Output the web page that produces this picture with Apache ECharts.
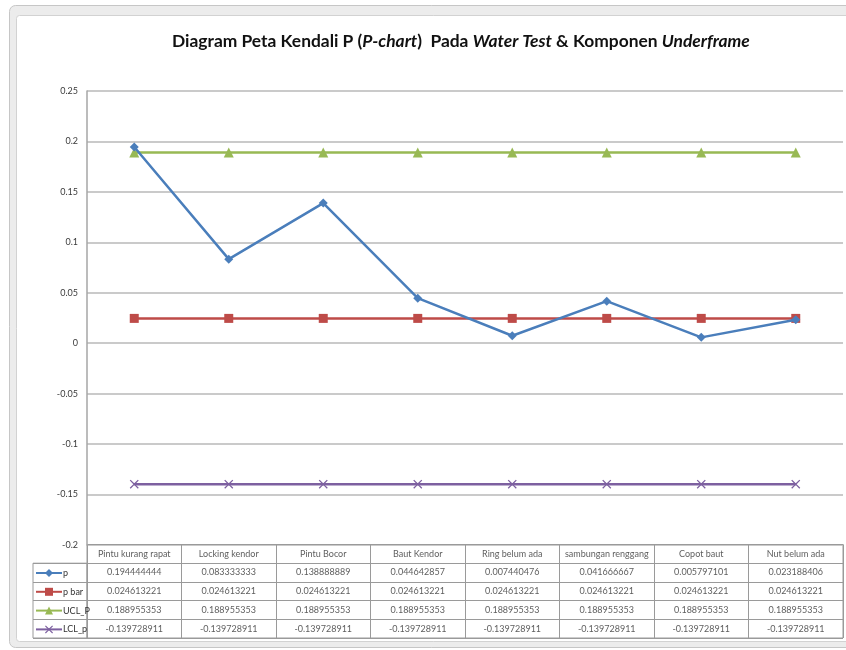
<!DOCTYPE html>
<html>
<head>
<meta charset="utf-8">
<script src="https://cdn.jsdelivr.net/npm/echarts@6/dist/echarts.min.js"></script>
<style>html,body{margin:0;padding:0;background:#fff}#c{width:846px;height:650px}</style>
</head>
<body>
<div id="c"></div>
<script>
const categories = ['Pintu kurang rapat','Locking kendor','Pintu Bocor','Baut Kendor','Ring belum ada','sambungan renggang','Copot baut','Nut belum ada'];
const seriesNames = ['p','p bar','UCL_P','LCL_p'];
const p     = [0.194444444,0.083333333,0.138888889,0.044642857,0.007440476,0.041666667,0.005797101,0.023188406];
const pBar  = [0.024613221,0.024613221,0.024613221,0.024613221,0.024613221,0.024613221,0.024613221,0.024613221];
const uclP  = [0.188955353,0.188955353,0.188955353,0.188955353,0.188955353,0.188955353,0.188955353,0.188955353];
const lclP  = [-0.139728911,-0.139728911,-0.139728911,-0.139728911,-0.139728911,-0.139728911,-0.139728911,-0.139728911];
const yMin = -0.2, yMax = 0.25, yStep = 0.05;

const FONT = 'Lato';
const colors = ['#4A7EBB','#BE4B48','#98B954','#7D60A0'];
const allValues = [p, pBar, uclP, lclP];
const tableRows = ['header'].concat(seriesNames);

const tableData = [];
categories.forEach((c) => tableData.push({value:[c,'header'], name:c}));
allValues.forEach((arr, ri) => {
  arr.forEach((v, ci) => tableData.push({value:[categories[ci], seriesNames[ri]], name:String(v)}));
});

const xSym = 'path://M0,1L1,0L5,4L9,0L10,1L6,5L10,9L9,10L5,6L1,10L0,9L4,5Z';
const symbols = ['diamond','rect','triangle',xSym];
const symSizes = [9,9,10,9];

const chart = echarts.init(document.getElementById('c'), null, {renderer:'canvas'});
const lineSeries = seriesNames.map((n, i) => ({
  name: n, type: 'line', xAxisIndex: 0, yAxisIndex: 0,
  data: allValues[i], symbol: symbols[i], symbolSize: symSizes[i],
  showAllSymbol: true, z: 3 + (i===0?2:0),
  lineStyle: {color: colors[i], width: 2.5},
  itemStyle: {color: colors[i]},
  emphasis: {disabled: true}
}));

chart.setOption({
  animation: false,
  textStyle: {fontFamily: FONT},
  graphic: [
    {type:'rect', z:-10, silent:true, shape:{x:9.5,y:5.5,width:845,height:642,r:6}, style:{fill:'#ececec', stroke:'#c6c6c6', lineWidth:1}},
    {type:'rect', z:-9, silent:true, shape:{x:16.5,y:15.5,width:835,height:626,r:3}, style:{fill:'#ffffff', stroke:'#d2d2d2', lineWidth:1}}
  ],
  title: {
    text: '{b|Diagram Peta Kendali P (}{i|P-chart}{b|)  Pada }{i|Water Test}{b| & Komponen }{i|Underframe}',
    left: 172, top: 33, padding: 0,
    textStyle: {
      rich: {
        b: {fontFamily: FONT, fontSize: 17.4, fontWeight: 'bold', color: '#111'},
        i: {fontFamily: FONT, fontSize: 17.4, fontWeight: 'bold', fontStyle: 'italic', color: '#111'}
      }
    }
  },
  legend: {
    orient: 'vertical', left: 35, top: 568, padding: 0,
    itemWidth: 26, itemHeight: 10, itemGap: 8.8,
    data: seriesNames,
    textStyle: {fontFamily: FONT, fontSize: 9, color: '#333', lineHeight: 10, padding: [0,0,0,-4]},
    selectedMode: false
  },
  grid: [
    {left: 87, right: 3, top: 91, height: 454, containLabel: false},
    {left: 87, right: 3, top: 544.5, height: 93.5, show: true, borderColor: '#9a9a9a', borderWidth: 1},
    {left: 33, width: 54, top: 563.2, height: 74.8, show: true, borderColor: '#9a9a9a', borderWidth: 1}
  ],
  xAxis: [
    {gridIndex: 0, type: 'category', data: categories, boundaryGap: true,
     axisLine: {show: false}, axisTick: {show: false}, axisLabel: {show: false}, splitLine: {show: false}},
    {gridIndex: 1, type: 'category', data: categories, boundaryGap: true,
     axisLine: {show: false}, axisTick: {show: false}, axisLabel: {show: false},
     splitLine: {show: true, interval: 0, lineStyle: {color: '#9a9a9a', width: 1}}},
    {gridIndex: 2, type: 'value', show: false}
  ],
  yAxis: [
    {gridIndex: 0, type: 'value', min: yMin, max: yMax, interval: yStep,
     axisLine: {show: true, lineStyle: {color: '#a6a6a6', width: 1.5}},
     axisTick: {show: false},
     axisLabel: {fontFamily: FONT, fontSize: 9, color: '#3a3a3a', margin: 9},
     splitLine: {show: true, lineStyle: {color: '#b8b8b8', width: 1.5}}},
    {gridIndex: 1, type: 'category', data: tableRows, inverse: true, boundaryGap: true,
     axisLine: {show: false}, axisTick: {show: false}, axisLabel: {show: false},
     splitLine: {show: true, interval: 0, lineStyle: {color: '#9a9a9a', width: 1}}},
    {gridIndex: 2, type: 'category', data: seriesNames, inverse: true, boundaryGap: true,
     axisLine: {show: false}, axisTick: {show: false}, axisLabel: {show: false},
     splitLine: {show: true, interval: 0, lineStyle: {color: '#9a9a9a', width: 1}}}
  ],
  series: lineSeries.concat([{
    type: 'scatter', xAxisIndex: 1, yAxisIndex: 1, symbolSize: 0, silent: true,
    data: tableData,
    label: {show: true, position: 'inside', formatter: '{b}', fontFamily: FONT, fontSize: 9, color: '#333'},
    emphasis: {disabled: true}
  }])
});
</script>
</body>
</html>
